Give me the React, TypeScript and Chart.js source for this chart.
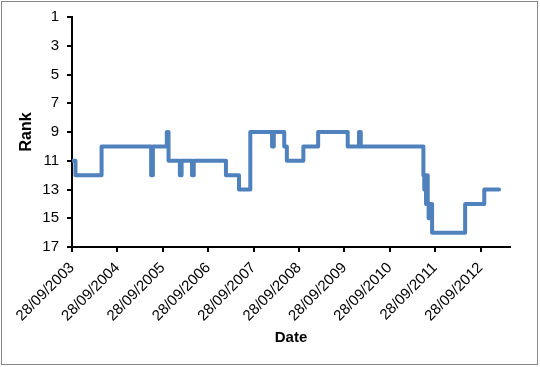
import React, { useEffect, useRef } from 'react';
import { Chart, registerables } from 'chart.js';

Chart.register(...registerables);

// Date of each ranking change and the rank held from that date on
const dates = [
  '2003-09-28', '2003-10-26', '2004-05-23', '2005-06-26', '2005-07-10',
  '2005-10-30', '2005-11-13', '2006-02-12', '2006-02-26', '2006-05-21',
  '2006-06-04', '2007-02-18', '2007-06-03', '2007-09-02', '2008-02-24',
  '2008-03-09', '2008-06-01', '2008-06-22', '2008-11-02', '2009-03-01',
  '2009-10-25', '2010-01-24', '2010-02-07', '2011-06-26', '2011-07-03',
  '2011-07-10', '2011-07-17', '2011-07-24', '2011-07-31', '2011-08-07',
  '2011-08-14', '2011-08-21', '2011-08-28', '2011-09-04', '2012-05-27',
  '2012-10-28', '2013-02-24',
];
const ranks = [
  11, 12, 10, 12, 10,
  9, 11, 12, 11, 12,
  11, 12, 13, 9, 10,
  9, 10, 11, 10, 9,
  10, 9, 10, 12, 13,
  12, 14, 12, 14, 15,
  14, 15, 14, 16, 14,
  13, 13,
];

const xTickDates = [
  '2003-09-28', '2004-09-28', '2005-09-28', '2006-09-28', '2007-09-28',
  '2008-09-28', '2009-09-28', '2010-09-28', '2011-09-28', '2012-09-28',
];
const xMinDate = '2003-09-28';
const xMaxDate = '2013-05-23';
const yMin = 1;
const yMax = 17;
const yStep = 2;

const dayNum = (s: string) =>
  Date.UTC(+s.slice(0, 4), +s.slice(5, 7) - 1, +s.slice(8, 10)) / 86400000;
const fmtDate = (s: string) => `${s.slice(8, 10)}/${s.slice(5, 7)}/${s.slice(0, 4)}`;

const tickLabelMap: Record<number, string> = {};
xTickDates.forEach((d) => {
  tickLabelMap[dayNum(d)] = fmtDate(d);
});

const FONT = "'Liberation Sans', Arial, sans-serif";

export default function App() {
  const ref = useRef<HTMLCanvasElement | null>(null);

  useEffect(() => {
    if (!ref.current) return;
    const borderPlugin = {
      id: 'outerBorder',
      beforeDraw(chart: any) {
        const ctx = chart.ctx;
        ctx.save();
        ctx.fillStyle = '#ffffff';
        ctx.fillRect(0, 0, chart.width, chart.height);
        ctx.strokeStyle = '#888888';
        ctx.lineWidth = 1;
        ctx.strokeRect(1.5, 1.5, 536, 363);
        ctx.restore();
      },
    };

    const chart = new Chart(ref.current, {
      type: 'line',
      data: {
        datasets: [
          {
            data: dates.map((d, i) => ({ x: dayNum(d), y: ranks[i] })),
            borderColor: '#4F81BD',
            borderWidth: 4,
            pointRadius: 0,
            stepped: true,
            fill: false,
            borderJoinStyle: 'round',
            borderCapStyle: 'round',
          },
        ],
      },
      options: {
        animation: false,
        responsive: false,
        maintainAspectRatio: false,
        layout: { padding: { left: 13, right: 30, top: 17, bottom: 16 } },
        plugins: {
          legend: { display: false },
          tooltip: { enabled: false },
        },
        scales: {
          x: {
            type: 'linear',
            min: dayNum(xMinDate),
            max: dayNum(xMaxDate),
            afterBuildTicks: (scale: any) => {
              scale.ticks = xTickDates.map((d) => ({ value: dayNum(d) }));
            },
            afterFit: (scale: any) => {
              scale.height = 104;
            },
            grid: {
              drawOnChartArea: false,
              drawTicks: true,
              tickLength: 5,
              color: '#000000',
              lineWidth: 2,
            },
            border: { color: '#000000', width: 2 },
            ticks: {
              autoSkip: false,
              minRotation: 45,
              maxRotation: 45,
              padding: 7,
              color: '#000000',
              font: { family: FONT, size: 15 },
              callback: (v: any) => tickLabelMap[v as number] ?? '',
            },
            title: {
              display: true,
              text: 'Date',
              color: '#000000',
              font: { family: FONT, size: 15, weight: 'bold' },
            },
          },
          y: {
            type: 'linear',
            reverse: true,
            min: yMin,
            max: yMax,
            afterFit: (scale: any) => {
              scale.width = 59;
            },
            grid: {
              drawOnChartArea: false,
              drawTicks: true,
              tickLength: 5,
              color: '#000000',
              lineWidth: 2,
            },
            border: { color: '#000000', width: 2 },
            ticks: {
              stepSize: yStep,
              padding: 8,
              color: '#000000',
              font: { family: FONT, size: 15 },
            },
            title: {
              display: true,
              text: 'Rank',
              color: '#000000',
              font: { family: FONT, size: 16, weight: 'bold' },
            },
          },
        },
      },
      plugins: [borderPlugin],
    } as any);
    return () => chart.destroy();
  }, []);

  return (
    <div style={{ position: 'fixed', left: 0, top: 0, width: 540, height: 367 }}>
      <canvas ref={ref} width={540} height={367} style={{ display: 'block' }} />
    </div>
  );
}
